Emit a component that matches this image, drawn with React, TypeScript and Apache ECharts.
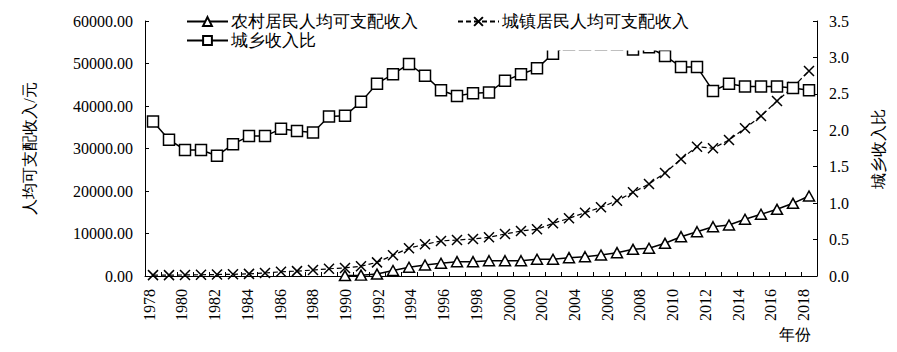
import React, { useEffect, useRef } from "react";
import * as echarts from "echarts";

const years = [
  "1978", "1979", "1980", "1981", "1982", "1983", "1984", "1985", "1986", "1987",
  "1988", "1989", "1990", "1991", "1992", "1993", "1994", "1995", "1996", "1997",
  "1998", "1999", "2000", "2001", "2002", "2003", "2004", "2005", "2006", "2007",
  "2008", "2009", "2010", "2011", "2012", "2013", "2014", "2015", "2016", "2017",
  "2018", "2019",
];

const ruralIncome = [
  null, null, null, null, null, null, null, null, null, null,
  null, null, 100, 200, 450, 1300, 2050, 2590, 2990, 3370,
  3370, 3600, 3600, 3600, 3930, 3930, 4310, 4540, 4940, 5490,
  6280, 6520, 7690, 9250, 10420, 11600, 12000, 13340, 14520, 15690,
  17100, 18820,
];

const urbanIncome = [
  200, 200, 250, 300, 350, 400, 500, 700, 1000, 1150,
  1400, 1700, 1900, 2300, 3200, 4900, 6550, 7450, 8240, 8470,
  8710, 9100, 9880, 10590, 10990, 12400, 13570, 14900, 16160, 17720,
  19690, 21650, 24240, 27530, 30420, 30050, 32000, 34750, 37650, 41180,
  44470, 48240,
];

const ratio = [
  2.12, 1.87, 1.73, 1.73, 1.65, 1.81, 1.92, 1.92, 2.02, 1.99,
  1.97, 2.19, 2.2, 2.39, 2.64, 2.77, 2.91, 2.75, 2.55, 2.47,
  2.51, 2.52, 2.68, 2.77, 2.85, 3.05, 3.18, 3.18, 3.18, 3.18,
  3.11, 3.14, 3.02, 2.87, 2.87, 2.54, 2.64, 2.6, 2.6, 2.6,
  2.58, 2.55,
];

const seriesNames = ["农村居民人均可支配收入", "城镇居民人均可支配收入", "城乡收入比"];

const FONT = "Times New Roman";

export default function App() {
  const ref = useRef<HTMLDivElement>(null);
  useEffect(() => {
    if (!ref.current) return;
    document.body.style.margin = "0";
    const chart = echarts.init(ref.current, null, { renderer: "svg" });
    const axisCommon = {
      axisLine: { show: true, lineStyle: { color: "#000", width: 1 } },
      axisTick: { show: true, inside: true, length: 4, lineStyle: { color: "#000" } },
      splitLine: { show: false },
    };
    const legendText = {
      fontSize: 17,
      lineHeight: 16,
      color: "#000",
      fontFamily: FONT,
      padding: [0, 0, 0, -2],
    };
    chart.setOption({
      animation: false,
      textStyle: { fontFamily: FONT, color: "#000" },
      grid: [
        { left: 145, right: 80, top: 21, bottom: 76 },
        { left: 141, right: 69, top: 21, bottom: 76 },
      ],
      title: {
        text: "年份",
        left: 779,
        top: 326,
        padding: 0,
        textStyle: { fontSize: 16, fontWeight: "normal", color: "#000", fontFamily: FONT },
      },
      legend: [
        {
          data: [seriesNames[0], seriesNames[1]],
          left: 160,
          top: 0,
          padding: [13, 8, 20.5, 26],
          backgroundColor: "#fff",
          z: 5,
          itemWidth: 41,
          itemHeight: 11,
          itemGap: 39,
          textStyle: legendText,
        },
        {
          data: [seriesNames[2]],
          left: 186,
          top: 32,
          padding: 0,
          z: 6,
          itemWidth: 41,
          itemHeight: 11,
          textStyle: legendText,
        },
      ],
      xAxis: [
        {
          type: "category",
          gridIndex: 0,
          data: years,
          boundaryGap: true,
          ...axisCommon,
          axisTick: { show: true, inside: true, length: 4, interval: 0, lineStyle: { color: "#000" } },
          axisLabel: { show: false },
        },
        {
          type: "category",
          gridIndex: 1,
          data: years,
          boundaryGap: true,
          axisLine: { show: false },
          axisTick: { show: false },
          splitLine: { show: false },
          axisLabel: {
            interval: 1,
            rotate: 90,
            fontSize: 16,
            color: "#000",
            margin: 13,
            fontFamily: FONT,
          },
        },
      ],
      yAxis: [
        {
          type: "value",
          gridIndex: 0,
          min: 0,
          max: 60000,
          interval: 10000,
          ...axisCommon,
          axisLabel: {
            formatter: (v: number) => v.toFixed(2),
            fontSize: 16,
            color: "#000",
            margin: 12,
            fontFamily: FONT,
          },
          name: "人均可支配收入/元",
          nameLocation: "middle",
          nameRotate: 90,
          nameGap: 108,
          nameTextStyle: { fontSize: 16, color: "#000", fontFamily: FONT },
        },
        {
          type: "value",
          gridIndex: 0,
          min: 0,
          max: 3.5,
          interval: 0.5,
          position: "right",
          ...axisCommon,
          axisLabel: {
            formatter: (v: number) => v.toFixed(1),
            fontSize: 16,
            color: "#000",
            margin: 12,
            fontFamily: FONT,
          },
          name: "城乡收入比",
          nameLocation: "middle",
          nameRotate: 90,
          nameGap: 53,
          nameTextStyle: { fontSize: 16, color: "#000", fontFamily: FONT },
        },
        {
          type: "value",
          gridIndex: 1,
          show: false,
          min: 0,
          max: 1,
        },
      ],
      series: [
        {
          name: seriesNames[0],
          type: "line",
          data: ruralIncome,
          xAxisIndex: 0,
          yAxisIndex: 0,
          symbol: "triangle",
          symbolSize: [11, 10],
          showAllSymbol: true,
          connectNulls: false,
          lineStyle: { color: "#000", width: 1.5 },
          itemStyle: { color: "#fff", borderColor: "#000", borderWidth: 1.5 },
        },
        {
          name: seriesNames[1],
          type: "line",
          data: urbanIncome,
          xAxisIndex: 0,
          yAxisIndex: 0,
          symbol: "path://M0,0L10,10M10,0L0,10",
          symbolSize: 10,
          showAllSymbol: true,
          lineStyle: { color: "#000", width: 1.2, type: [5, 3] },
          itemStyle: { color: "none", borderColor: "#000", borderWidth: 1.5 },
        },
        {
          name: seriesNames[2],
          type: "line",
          data: ratio,
          xAxisIndex: 0,
          yAxisIndex: 1,
          symbol: "rect",
          symbolSize: 11,
          showAllSymbol: true,
          lineStyle: { color: "#000", width: 1.5 },
          itemStyle: { color: "#fff", borderColor: "#000", borderWidth: 1.5 },
        },
      ],
    });
    return () => chart.dispose();
  }, []);
  return <div ref={ref} style={{ width: 897, height: 352 }} />;
}
